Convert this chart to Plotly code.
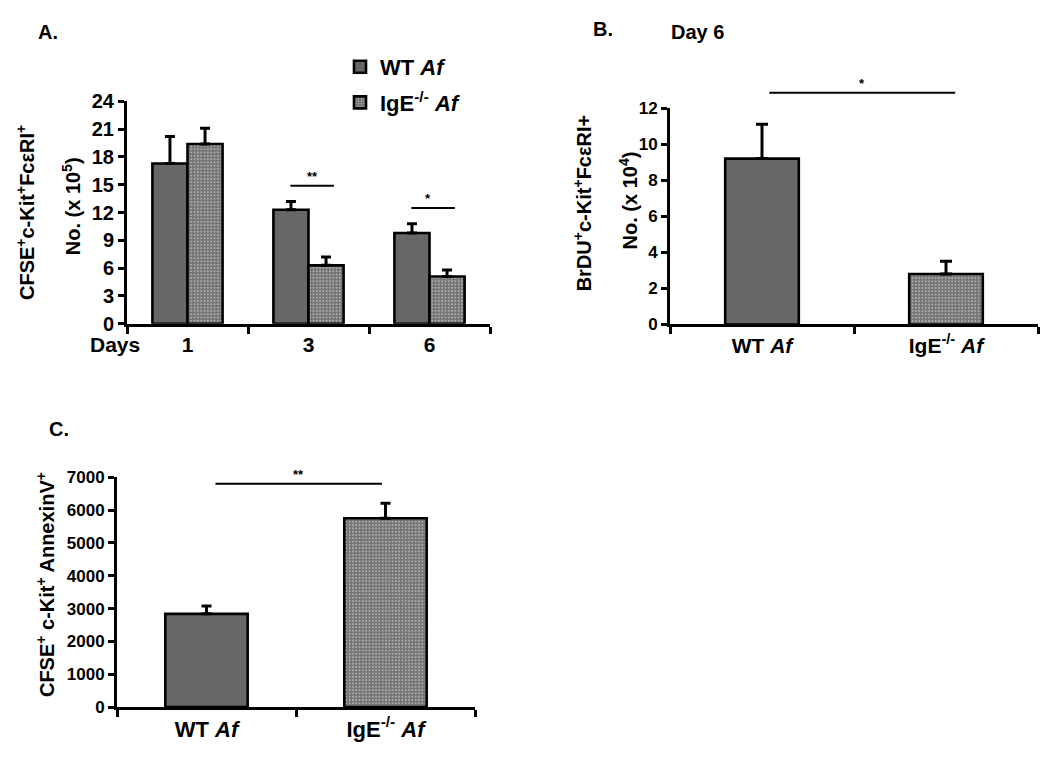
import plotly.graph_objects as go

# ---------------- data ----------------
days = ["1", "3", "6"]
a_wt = [17.3, 12.3, 9.8]
a_wt_err = [2.9, 0.9, 1.0]
a_ige = [19.4, 6.3, 5.1]
a_ige_err = [1.7, 0.9, 0.7]
a_ticks = [0, 3, 6, 9, 12, 15, 18, 21, 24]

groups = ["WT <i>Af</i>", "IgE<sup>-/-</sup> <i>Af</i>"]
b_vals = [9.2, 2.8]
b_err = [1.9, 0.7]
b_ticks = [0, 2, 4, 6, 8, 10, 12]

c_vals = [2840, 5750]
c_err = [240, 460]
c_ticks = [0, 1000, 2000, 3000, 4000, 5000, 6000, 7000]

# significance: (category, bracket level, label)
sig_a = [("3", 14.9, "**"), ("6", 12.5, "*")]
sig_b = (12.85, "*")
sig_c = (6800, "**")

# ---------------- style ----------------
W, H = 1050, 767
FONT = "Liberation Sans, Arial, Helvetica, sans-serif"
WT_COLOR = "#676767"
IGE_COLOR = "#7a7a7a"
PAT = dict(shape=".", fgcolor="#c4c4c4", bgcolor="#767676", size=3.3, solidity=0.2,
           fillmode="replace")


def px(x):
    return x / W


def py(y):
    return 1 - y / H


def bar(x, y, err, color, xa, ya, width, offset, name=None, pattern=None, showlegend=False, cap=5):
    marker = dict(color=color, line=dict(color="black", width=2.6))
    if pattern:
        marker["pattern"] = pattern
    return go.Bar(
        x=x, y=y, name=name, width=width, offset=offset,
        marker=marker, xaxis=xa, yaxis=ya, showlegend=showlegend,
        error_y=dict(type="data", array=err, arrayminus=[0] * len(err), symmetric=False,
                     color="black", thickness=3, width=cap),
        hoverinfo="skip",
    )


fig = go.Figure()
# Panel A
fig.add_trace(bar(days, a_wt, a_wt_err, WT_COLOR, "x", "y", 0.29, -0.29,
                  name="WT <i>Af</i>", showlegend=True))
fig.add_trace(bar(days, a_ige, a_ige_err, IGE_COLOR, "x", "y", 0.29, 0.0,
                  name="IgE<sup>-/-</sup> <i>Af</i>", pattern=PAT, showlegend=True))
# Panel B
fig.add_trace(bar([groups[0]], [b_vals[0]], [b_err[0]], WT_COLOR, "x2", "y2", 0.40, -0.20, cap=6))
fig.add_trace(bar([groups[1]], [b_vals[1]], [b_err[1]], IGE_COLOR, "x2", "y2", 0.40, -0.20,
                  pattern=PAT, cap=6))
# Panel C
fig.add_trace(bar([groups[0]], [c_vals[0]], [c_err[0]], WT_COLOR, "x3", "y3", 0.46, -0.23))
fig.add_trace(bar([groups[1]], [c_vals[1]], [c_err[1]], IGE_COLOR, "x3", "y3", 0.46, -0.23,
                  pattern=PAT))

axis_common = dict(showline=True, linecolor="black", linewidth=3, showgrid=False,
                   zeroline=False, ticks="outside", tickcolor="black", tickwidth=3,
                   fixedrange=True)


def xaxis(domain, cats, anchor, size):
    return dict(axis_common, domain=domain, anchor=anchor, type="category",
                categoryorder="array", categoryarray=cats, range=[-0.5, len(cats) - 0.5],
                tickson="boundaries", ticklen=7,
                tickfont=dict(family=FONT, size=size, color="black", weight="bold"))


def yaxis(domain, ticks, anchor, size):
    return dict(axis_common, domain=domain, anchor=anchor, range=[ticks[0], ticks[-1]],
                tickvals=ticks, ticklen=6,
                tickfont=dict(family=FONT, size=size, color="black", weight="bold"))


fig.update_layout(
    width=W, height=H,
    margin=dict(l=0, r=0, t=0, b=0),
    paper_bgcolor="white", plot_bgcolor="white",
    barmode="overlay",
    xaxis=xaxis([px(127), px(490)], days, "y", 21),
    yaxis=yaxis([py(322), py(93)], a_ticks, "x", 20),
    xaxis2=xaxis([px(670), px(1038)], groups, "y2", 21),
    yaxis2=yaxis([py(322.7), py(100)], b_ticks, "x2", 17),
    xaxis3=xaxis([px(117), px(475)], groups, "y3", 22),
    yaxis3=yaxis([py(716.7), py(480)], c_ticks, "x3", 17),
    legend=dict(x=px(340), y=py(36), xanchor="left", yanchor="top",
                font=dict(family=FONT, size=22, color="black", weight="bold"),
                traceorder="grouped", tracegroupgap=4, bgcolor="rgba(0,0,0,0)"),
    showlegend=True,
)
fig.data[0].legendgroup = "wt"
fig.data[1].legendgroup = "ige"

annots = []
shapes = []


def text(x, y, s, size=20, angle=0, xanchor="center", yanchor="middle"):
    annots.append(dict(x=px(x), y=py(y), xref="paper", yref="paper", text=s,
                       showarrow=False, textangle=angle, xanchor=xanchor, yanchor=yanchor,
                       font=dict(family=FONT, size=size, color="black", weight="bold")))


# panel labels
text(48, 22, "A.")
text(603, 19, "B.")
text(697, 22, "Day 6")
text(59, 430, "C.")
# axis titles
text(25, 208, "CFSE<sup>+</sup>c-Kit<sup>+</sup>FcεRI<sup>+</sup>", 20, -90)
text(71, 201, "No. (x 10<sup>5</sup>)", 20, -90)
text(582, 198, "BrDU<sup>+</sup>c-Kit<sup>+</sup>FcεRI+", 20, -90)
text(628, 195, "No. (x 10<sup>4</sup>)", 20, -90)
text(45, 591, "CFSE<sup>+</sup> c-Kit<sup>+</sup> AnnexinV<sup>+</sup>", 20, -90)
text(115, 343, "Days", 21)


def sig(xref, yref, ncat, i0, i1, level, ymax, label):
    x0 = (i0 + 0.5) / ncat
    x1 = (i1 + 0.5) / ncat
    yv = level / ymax
    shapes.append(dict(type="line", xref=xref + " domain", yref=yref + " domain",
                       x0=x0, x1=x1, y0=yv, y1=yv, line=dict(color="black", width=2)))
    annots.append(dict(x=(x0 + x1) / 2, y=yv, xref=xref + " domain", yref=yref + " domain",
                       text=label, showarrow=False, yanchor="bottom", yshift=0,
                       font=dict(family=FONT, size=13, color="black", weight="bold")))


for cat, level, lab in sig_a:
    i = days.index(cat)
    sig("x", "y", len(days), i - 0.15, i + 0.21, level, a_ticks[-1], lab)
sig("x2", "y2", len(groups), 0.04, 1.05, sig_b[0], b_ticks[-1], sig_b[1])
sig("x3", "y3", len(groups), 0.05, 0.98, sig_c[0], c_ticks[-1], sig_c[1])

fig.update_layout(annotations=annots, shapes=shapes)

fig.write_html("out.html", config={"displayModeBar": False},
               post_script="document.body.style.margin='0';")
